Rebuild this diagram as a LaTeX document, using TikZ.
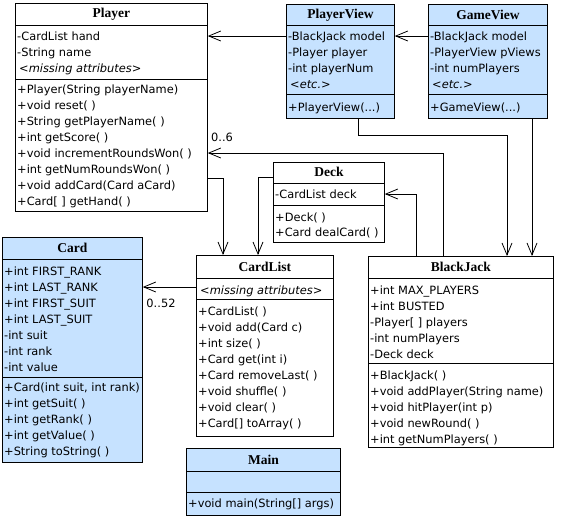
\documentclass[tikz,border=0pt]{standalone}
\usepackage{fontspec}
\setmainfont{DejaVu Sans}
\newfontfamily\titlefont{Liberation Serif}
\usetikzlibrary{arrows.meta}
\definecolor{viewblue}{RGB}{198,226,255}
\tikzset{
  classbox/.style={draw, line width=0.8pt, anchor=north west, inner sep=0pt},
  viewbox/.style={classbox, fill=viewblue},
  sepline/.style={line width=0.8pt},
  classtitle/.style={font=\titlefont\bfseries\fontsize{13.5}{15}\selectfont, inner sep=0pt},
  member/.style={anchor=base west, inner sep=0pt, font=\fontsize{11.4}{16}\selectfont},
  assoc/.style={line width=0.8pt, -{Straight Barb[length=12pt, width=10pt, line width=0.8pt]}},
  mult/.style={font=\fontsize{11.4}{13}\selectfont, inner sep=0pt}
}
\begin{document}
\begin{tikzpicture}[x=1pt, y=-1pt]
  \useasboundingbox (0,0) rectangle (561,523);
  % Player
  \node[classbox, minimum width=192pt, minimum height=208pt] (player) at (15,3) {};
  \draw[sepline] (player.west |- 0,25) -- (player.east |- 0,25);
  \draw[sepline] (player.west |- 0,79) -- (player.east |- 0,79);
  \node[classtitle] (player-t) at (player.north |- 0,14) {Player};
  \foreach \m [count=\i from 0] in {-CardList hand, -String name}
    \node[member] (player-a\i) at (17,40+16*\i) {\m};
  \node[member] (player-a2) at (19,72) {\textit{<missing attributes>}};
  \foreach \m [count=\i from 0] in {+Player(String playerName), +void reset( ), +String getPlayerName( ),
      +int getScore( ), +void incrementRoundsWon( ), +int getNumRoundsWon( ), +void addCard(Card aCard), +Card[ ] getHand( )}
    \node[member] (player-m\i) at (17,93+16*\i) {\m};
  % PlayerView
  \node[viewbox, minimum width=108pt, minimum height=114pt] (pview) at (286,4) {};
  \draw[sepline] (pview.west |- 0,25) -- (pview.east |- 0,25);
  \draw[sepline] (pview.west |- 0,94) -- (pview.east |- 0,94);
  \node[classtitle] (pview-t) at (pview.north |- 0,15) {PlayerView};
  \foreach \m [count=\i from 0] in {-BlackJack model, -Player player, -int playerNum}
    \node[member] (pview-a\i) at (288,40+16*\i) {\m};
  \node[member] (pview-a3) at (290,88) {\textit{<etc.>}};
  \node[member] (pview-m0) at (288,111) {+PlayerView(...)};
  % GameView
  \node[viewbox, minimum width=119pt, minimum height=114pt] (gview) at (428,4) {};
  \draw[sepline] (gview.west |- 0,25) -- (gview.east |- 0,25);
  \draw[sepline] (gview.west |- 0,94) -- (gview.east |- 0,94);
  \node[classtitle] (gview-t) at (gview.north |- 0,15) {GameView};
  \foreach \m [count=\i from 0] in {-BlackJack model, -PlayerView pViews, -int numPlayers}
    \node[member] (gview-a\i) at (430,40+16*\i) {\m};
  \node[member] (gview-a3) at (432,88) {\textit{<etc.>}};
  \node[member] (gview-m0) at (430,111) {+GameView(...)};
  % Deck
  \node[classbox, minimum width=111pt, minimum height=80pt] (deck) at (273,162) {};
  \draw[sepline] (deck.west |- 0,183) -- (deck.east |- 0,183);
  \draw[sepline] (deck.west |- 0,205) -- (deck.east |- 0,205);
  \node[classtitle] (deck-t) at (deck.north |- 0,172) {Deck};
  \node[member] (deck-a0) at (275,198) {-CardList deck};
  \node[member] (deck-m0) at (275,221) {+Deck( )};
  \node[member] (deck-m1) at (275,236) {+Card dealCard( )};
  % CardList
  \node[classbox, minimum width=137pt, minimum height=181pt] (clist) at (196,255) {};
  \draw[sepline] (clist.west |- 0,278) -- (clist.east |- 0,278);
  \draw[sepline] (clist.west |- 0,299) -- (clist.east |- 0,299);
  \node[classtitle] (clist-t) at (clist.north |- 0,267) {CardList};
  \node[member] (clist-a0) at (200,294) {\textit{<missing attributes>}};
  \foreach \m [count=\i from 0] in {+CardList( ), +void add(Card c), +int size( ), +Card get(int i),
      +Card removeLast( ), +void shuffle( ), +void clear( ), +Card[] toArray( )}
    \node[member] (clist-m\i) at (198,315+16*\i) {\m};
  % Card
  \node[viewbox, minimum width=140pt, minimum height=225pt] (card) at (2,237) {};
  \draw[sepline] (card.west |- 0,259) -- (card.east |- 0,259);
  \draw[sepline] (card.west |- 0,377) -- (card.east |- 0,377);
  \node[classtitle] (card-t) at (card.north |- 0,248) {Card};
  \foreach \m [count=\i from 0] in {+int FIRST\_RANK, +int LAST\_RANK, +int FIRST\_SUIT, +int LAST\_SUIT,
      -int suit, -int rank, -int value}
    \node[member] (card-a\i) at (4,275+16*\i) {\m};
  \foreach \m [count=\i from 0] in {{+Card(int suit, int rank)}, +int getSuit( ), +int getRank( ),
      +int getValue( ), +String toString( )}
    \node[member] (card-m\i) at (4,391+16*\i) {\m};
  % BlackJack
  \node[classbox, minimum width=185pt, minimum height=191pt] (bj) at (368,256) {};
  \draw[sepline] (bj.west |- 0,278) -- (bj.east |- 0,278);
  \draw[sepline] (bj.west |- 0,363) -- (bj.east |- 0,363);
  \node[classtitle] (bj-t) at (bj.north |- 0,267) {BlackJack};
  \foreach \m [count=\i from 0] in {+int MAX\_PLAYERS, +int BUSTED, -Player[ ] players, -int numPlayers, -Deck deck}
    \node[member] (bj-a\i) at (370,294+16*\i) {\m};
  \foreach \m [count=\i from 0] in {+BlackJack( ), +void addPlayer(String name), +void hitPlayer(int p),
      +void newRound( ), +int getNumPlayers( )}
    \node[member] (bj-m\i) at (370,379+16*\i) {\m};
  % Main
  \node[viewbox, minimum width=154pt, minimum height=67pt] (main) at (186,448) {};
  \draw[sepline] (main.west |- 0,471) -- (main.east |- 0,471);
  \draw[sepline] (main.west |- 0,492) -- (main.east |- 0,492);
  \node[classtitle] (main-t) at (main.north |- 0,460) {Main};
  \node[member] (main-m0) at (188,507) {+void main(String[] args)};
  % Associations
  \draw[assoc] (pview.west |- 0,36) -- (player.east |- 0,36);
  \draw[assoc] (gview.west |- 0,36) -- (pview.east |- 0,36);
  \draw[assoc] (bj.north -| 443,0) |- (player.east |- 0,153);
  \node[mult] (m06) at (222,137) {0..6};
  \draw[assoc] (pview.south -| 358,0) -- ++(0,17) -| (bj.north -| 507,0);
  \draw[assoc] (gview.south -| 532,0) -- (bj.north -| 532,0);
  \draw[assoc] (player.east |- 0,178) -| (clist.north -| 223,0);
  \draw[assoc] (deck.west |- 0,177) -| (clist.north -| 258,0);
  \draw[assoc] (bj.north -| 416,0) |- (deck.east |- 0,194);
  \draw[assoc] (clist.west |- 0,287) -- (card.east |- 0,287);
  \node[mult] (m052) at (161,303) {0..52};
\end{tikzpicture}
\end{document}
